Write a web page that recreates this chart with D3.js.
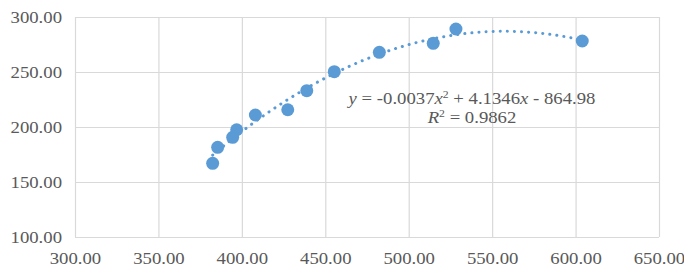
<!DOCTYPE html>
<html>
<head>
<meta charset="utf-8">
<script src="https://cdn.jsdelivr.net/npm/d3@7"></script>
<style>
  html, body { margin: 0; padding: 0; background: #fff; }
  svg { display: block; }
</style>
</head>
<body>
<div id="chart"></div>
<script>
// points
var xValues = [382.5, 385.5, 394.5, 396.9, 408.1, 427.5, 438.9, 455.4, 482.4, 514.7, 528.3, 604.0];
var yValues = [167.0, 181.5, 190.6, 197.5, 210.9, 215.7, 233.0, 250.3, 267.9, 276.1, 289.1, 278.2];
var xTicks = [300, 350, 400, 450, 500, 550, 600, 650];
var yTicks = [100, 150, 200, 250, 300];
var equationText = ["-0.0037", "4.1346", "864.98"];
var rSquaredText = "0.9862";

var w = 684, h = 266;
var margin = {left: 75, right: 25, top: 17, bottom: 29};
var pw = w - margin.left - margin.right;
var ph = h - margin.top - margin.bottom;
var stretch = 1.17;
var serif = "'Liberation Serif'";
var textColor = "#595959";
var gridColor = "#d9d9d9";
var dotColor = "#5b9bd5";

var svg = d3.select("#chart")
            .append("svg")
            .attr("width", w)
            .attr("height", h);

var g = svg.append("g")
           .attr("transform", "translate(" + margin.left + "," + margin.top + ")");

var x = d3.scaleLinear().domain([300, 650]).range([0, pw]);
var y = d3.scaleLinear().domain([100, 300]).range([ph, 0]);

// horizontal gridlines + y labels
var yAxis = g.append("g")
    .call(d3.axisLeft(y).tickValues(yTicks).tickSize(-pw).tickFormat(d3.format(".2f")));
yAxis.select(".domain").remove();
yAxis.selectAll("line").attr("stroke", gridColor).attr("stroke-width", 1.2);
yAxis.selectAll("text")
     .attr("x", 0)
     .attr("dy", "0.32em")
     .attr("text-anchor", "end")
     .attr("transform", "translate(-13,0) scale(" + stretch + ",1)")
     .attr("fill", textColor)
     .style("font-family", serif)
     .style("font-size", "16px");

// vertical gridlines + x labels
var xAxis = g.append("g")
    .attr("transform", "translate(0," + ph + ")")
    .call(d3.axisBottom(x).tickValues(xTicks).tickSize(-ph).tickFormat(d3.format(".2f")));
xAxis.select(".domain").remove();
xAxis.selectAll("line").attr("stroke", gridColor).attr("stroke-width", 1.2);
xAxis.selectAll("text")
     .attr("y", 27)
     .attr("dy", 0)
     .attr("text-anchor", "middle")
     .attr("transform", "scale(" + stretch + ",1)")
     .attr("fill", textColor)
     .style("font-family", serif)
     .style("font-size", "16px");

// quadratic least squares trendline from the points
function quadFit(xs, ys) {
    var n = xs.length, s = [0, 0, 0, 0, 0], t = [0, 0, 0];
    for (var i = 0; i < n; i++) {
        var p = 1;
        for (var k = 0; k < 5; k++) { s[k] += p; if (k < 3) t[k] += p * ys[i]; p *= xs[i]; }
    }
    var A = [[s[0], s[1], s[2], t[0]], [s[1], s[2], s[3], t[1]], [s[2], s[3], s[4], t[2]]];
    for (var c = 0; c < 3; c++) {
        for (var r = c + 1; r < 3; r++) {
            var f = A[r][c] / A[c][c];
            for (var j = c; j < 4; j++) A[r][j] -= f * A[c][j];
        }
    }
    var b = [0, 0, 0];
    for (var r2 = 2; r2 >= 0; r2--) {
        var sum = A[r2][3];
        for (var j2 = r2 + 1; j2 < 3; j2++) sum -= A[r2][j2] * b[j2];
        b[r2] = sum / A[r2][r2];
    }
    return b; // c0 + c1 x + c2 x^2
}

var coef = quadFit(xValues, yValues);
var xMin = d3.min(xValues), xMax = d3.max(xValues);
var curve = d3.range(0, 101).map(function(i) {
    var xv = xMin + (xMax - xMin) * i / 100;
    return [xv, coef[0] + coef[1] * xv + coef[2] * xv * xv];
});

g.append("path")
 .datum(curve)
 .attr("fill", "none")
 .attr("stroke", dotColor)
 .attr("stroke-width", 3)
 .attr("stroke-linecap", "round")
 .attr("stroke-dasharray", "0.1 7")
 .attr("d", d3.line().x(function(d) { return x(d[0]); }).y(function(d) { return y(d[1]); }));

var pts = xValues.map(function(d, i) { return [d, yValues[i]]; });
g.selectAll("circle")
 .data(pts)
 .enter()
 .append("circle")
 .attr("cx", function(d) { return x(d[0]); })
 .attr("cy", function(d) { return y(d[1]); })
 .attr("r", 6.5)
 .attr("fill", dotColor);

// equation label
var lbl = svg.append("g")
             .attr("transform", "translate(472,0) scale(" + stretch + ",1)")
             .attr("fill", textColor)
             .attr("text-anchor", "middle")
             .style("font-family", serif)
             .style("font-size", "16px");

var l1 = lbl.append("text").attr("y", 104);
l1.append("tspan").style("font-style", "italic").text("y");
l1.append("tspan").text(" = " + equationText[0]);
l1.append("tspan").style("font-style", "italic").text("x");
l1.append("tspan").style("font-size", "10px").attr("dy", -6).text("2");
l1.append("tspan").attr("dy", 6).text(" + " + equationText[1]);
l1.append("tspan").style("font-style", "italic").text("x");
l1.append("tspan").text(" - " + equationText[2]);

var l2 = lbl.append("text").attr("y", 123);
l2.append("tspan").style("font-style", "italic").text("R");
l2.append("tspan").style("font-size", "10px").attr("dy", -6).text("2");
l2.append("tspan").attr("dy", 6).text(" = " + rSquaredText);
</script>
</body>
</html>
